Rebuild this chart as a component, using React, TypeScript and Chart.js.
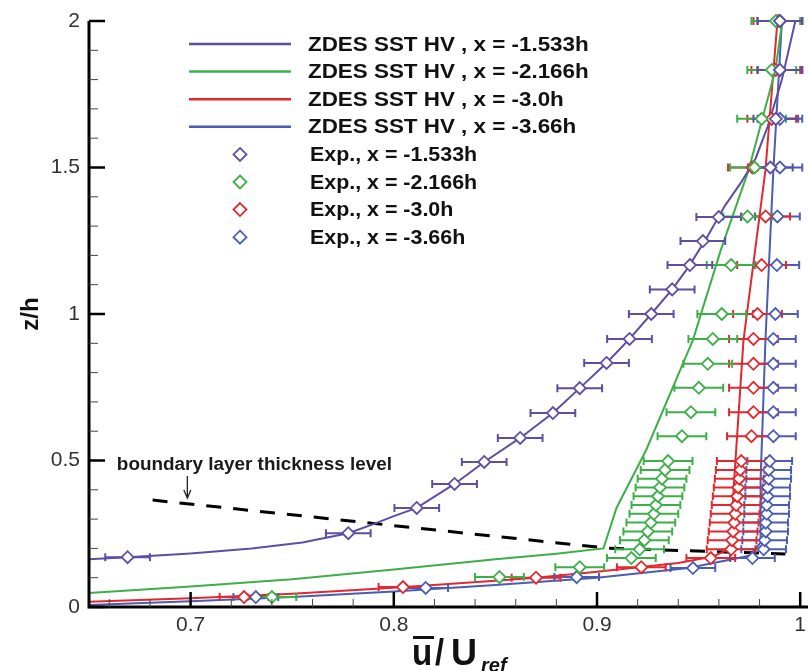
import React, { useEffect, useRef } from "react";
import { Chart, registerables } from "chart.js";
Chart.register(...registerables);

// ---------- axes ----------
const xRange = [0.65, 1.0];
const zRange = [0, 2];
const xTickValues = [0.7, 0.8, 0.9, 1.0];
const xTickLabels = ["0.7", "0.8", "0.9", "1"];
const zTickValues = [0, 0.5, 1, 1.5, 2];
const zTickLabels = ["0", "0.5", "1", "1.5", "2"];

// ---------- series names / colours ----------
const simNames = [
  "ZDES SST HV , x = -1.533h",
  "ZDES SST HV , x = -2.166h",
  "ZDES SST HV , x = -3.0h",
  "ZDES SST HV , x = -3.66h",
];
const expNames = [
  "Exp., x = -1.533h",
  "Exp., x = -2.166h",
  "Exp., x = -3.0h",
  "Exp., x = -3.66h",
];
const seriesColors = ["#5c4fa3", "#3daf48", "#e3282d", "#4a5db3"];

// ---------- simulation profiles (u/Uref, z/h) ----------
const sim1533U = [0.65, 0.669, 0.7, 0.73, 0.755, 0.7776, 0.79, 0.8, 0.8113, 0.8299, 0.8445, 0.8622, 0.8783, 0.8915, 0.9047, 0.916, 0.9267, 0.937, 0.945, 0.954, 0.963, 0.971, 0.978, 0.984, 0.991, 0.9976];
const sim1533Z = [0.163, 0.17, 0.183, 0.2, 0.22, 0.252, 0.283, 0.31, 0.338, 0.42, 0.495, 0.577, 0.662, 0.747, 0.833, 0.915, 1.0, 1.084, 1.16, 1.26, 1.37, 1.45, 1.53, 1.64, 1.8, 2.0];

const sim2166U = [0.65, 0.7, 0.75, 0.8, 0.85, 0.88, 0.9032, 0.9096, 0.9242, 0.9472, 0.9609, 0.9746, 0.9878, 0.9912];
const sim2166Z = [0.048, 0.07, 0.095, 0.128, 0.163, 0.182, 0.2, 0.338, 0.536, 0.911, 1.218, 1.491, 1.833, 2.0];

const sim30U = [0.65, 0.7, 0.75, 0.8, 0.85, 0.87, 0.9, 0.94, 0.957, 0.9658, 0.9665, 0.9675, 0.9721, 0.9829, 0.9888];
const sim30Z = [0.018, 0.03, 0.045, 0.066, 0.09, 0.1, 0.12, 0.15, 0.172, 0.2, 0.3, 0.433, 0.911, 1.491, 2.0];

const sim366U = [0.65, 0.7, 0.75, 0.8, 0.85, 0.9, 0.945, 0.975, 0.9805, 0.9805, 0.9829, 0.9868, 0.991];
const sim366Z = [0.007, 0.02, 0.034, 0.053, 0.075, 0.1, 0.133, 0.175, 0.22, 0.433, 0.911, 1.491, 2.0];

// ---------- experimental profiles (u/Uref, z/h, half error) ----------
const exp1533U = [0.669, 0.7776, 0.8113, 0.8299, 0.8445, 0.8622, 0.8783, 0.8915, 0.9047, 0.916, 0.9267, 0.937, 0.9457, 0.9521, 0.9599, 0.9853, 0.988, 0.99, 0.99];
const exp1533Z = [0.17, 0.252, 0.338, 0.42, 0.495, 0.577, 0.662, 0.747, 0.833, 0.915, 1.0, 1.084, 1.167, 1.249, 1.331, 1.5, 1.666, 1.833, 2.0];
const exp1533Err = 0.011;

const exp2166U = [0.74, 0.852, 0.8915, 0.9169, 0.921, 0.9233, 0.925, 0.9265, 0.928, 0.929, 0.93, 0.931, 0.932, 0.9335, 0.935, 0.9418, 0.9462, 0.9501, 0.9545, 0.957, 0.9614, 0.966, 0.9741, 0.9775, 0.981, 0.986, 0.988];
const exp2166Z = [0.034, 0.102, 0.136, 0.167, 0.197, 0.228, 0.258, 0.288, 0.318, 0.348, 0.378, 0.408, 0.438, 0.468, 0.498, 0.583, 0.665, 0.748, 0.83, 0.915, 1.0, 1.167, 1.333, 1.5, 1.666, 1.833, 2.0];
const exp2166Err = 0.012;

const exp30U = [0.7263, 0.8045, 0.87, 0.9218, 0.956, 0.966, 0.9665, 0.967, 0.9675, 0.968, 0.9685, 0.969, 0.9695, 0.97, 0.9705, 0.971, 0.976, 0.977, 0.977, 0.977, 0.977, 0.979, 0.981, 0.983, 0.9765, 0.986, 0.988, 0.989];
const exp30Z = [0.034, 0.068, 0.1, 0.136, 0.167, 0.197, 0.228, 0.258, 0.288, 0.318, 0.348, 0.378, 0.408, 0.438, 0.468, 0.498, 0.583, 0.665, 0.748, 0.83, 0.915, 1.0, 1.167, 1.333, 1.5, 1.666, 1.833, 2.0];
const exp30Err = 0.012;

const exp366U = [0.7321, 0.8157, 0.89, 0.9472, 0.9765, 0.982, 0.9825, 0.983, 0.983, 0.9835, 0.9835, 0.984, 0.984, 0.9845, 0.9845, 0.985, 0.9868, 0.9868, 0.9868, 0.9868, 0.9868, 0.9878, 0.9885, 0.9888, 0.99, 0.99, 0.99, 0.99];
const exp366Z = [0.034, 0.065, 0.102, 0.133, 0.167, 0.197, 0.228, 0.258, 0.288, 0.318, 0.348, 0.378, 0.408, 0.438, 0.468, 0.498, 0.583, 0.665, 0.748, 0.83, 0.915, 1.0, 1.167, 1.333, 1.5, 1.666, 1.833, 2.0];
const exp366Err = 0.011;

// ---------- boundary layer thickness level ----------
const bltU = [0.6813, 0.9047, 0.9927];
const bltZ = [0.365, 0.201, 0.181];
const bltLabel = "boundary layer thickness level";
const bltLabelAt = [0.6637, 0.4676];
const bltArrowU = 0.6984;
const bltArrowZ = [0.447, 0.372];

const FONT = '"Liberation Sans", Arial, Helvetica, sans-serif';

const pts = (u: number[], z: number[]) => u.map((v, i) => ({ x: v, y: z[i] }));

const simSets = [
  [sim1533U, sim1533Z],
  [sim2166U, sim2166Z],
  [sim30U, sim30Z],
  [sim366U, sim366Z],
];
const expSets: [number[], number[], number][] = [
  [exp1533U, exp1533Z, exp1533Err],
  [exp2166U, exp2166Z, exp2166Err],
  [exp30U, exp30Z, exp30Err],
  [exp366U, exp366Z, exp366Err],
];

function drawScaledText(ctx: CanvasRenderingContext2D, text: string, x: number, y: number, font: string, sx: number, align: CanvasTextAlign = "left") {
  ctx.save();
  ctx.font = font;
  ctx.textAlign = align;
  ctx.translate(x, y);
  ctx.scale(sx, 1);
  ctx.fillText(text, 0, 0);
  ctx.restore();
}

function diamond(ctx: CanvasRenderingContext2D, x: number, y: number, r: number, color: string) {
  ctx.beginPath();
  ctx.moveTo(x, y - r);
  ctx.lineTo(x + r, y);
  ctx.lineTo(x, y + r);
  ctx.lineTo(x - r, y);
  ctx.closePath();
  ctx.fillStyle = "#fff";
  ctx.fill();
  ctx.lineWidth = 1.8;
  ctx.strokeStyle = color;
  ctx.stroke();
}

const errorBarPlugin = {
  id: "errorBars",
  beforeDatasetDraw(chart: any, args: any) {
    if (args.index !== expSets.length - 1) return;
    const { ctx, scales } = chart;
    const xs = scales.x, ys = scales.y;
    ctx.save();
    for (let s = expSets.length - 1; s >= 0; s--) {
      const [u, z, err] = expSets[s];
      ctx.strokeStyle = seriesColors[s];
      ctx.lineWidth = 2;
      for (let i = 0; i < u.length; i++) {
        const py = ys.getPixelForValue(z[i]);
        const p0 = xs.getPixelForValue(u[i] - err);
        const p1 = xs.getPixelForValue(u[i] + err);
        ctx.beginPath();
        ctx.moveTo(p0, py);
        ctx.lineTo(p1, py);
        ctx.moveTo(p0, py - 4);
        ctx.lineTo(p0, py + 4);
        ctx.moveTo(p1, py - 4);
        ctx.lineTo(p1, py + 4);
        ctx.stroke();
      }
    }
    ctx.restore();
  },
};

const decorPlugin = {
  id: "decor",
  afterDraw(chart: any) {
    const { ctx, scales } = chart;
    const xs = scales.x, ys = scales.y;
    const ax = xs.getPixelForValue(xRange[0]);
    const ay = ys.getPixelForValue(zRange[0]);
    const top = ys.getPixelForValue(zRange[1]);
    ctx.save();
    ctx.strokeStyle = "#000";
    ctx.lineCap = "butt";
    // axis lines
    ctx.lineWidth = 3;
    ctx.beginPath();
    ctx.moveTo(ax, top);
    ctx.lineTo(ax, ay + 1.5);
    ctx.moveTo(ax - 1.5, ay);
    ctx.lineTo(chart.width, ay);
    ctx.stroke();
    // y ticks
    ctx.lineWidth = 2.5;
    zTickValues.forEach((v) => {
      const py = ys.getPixelForValue(v);
      ctx.beginPath();
      ctx.moveTo(ax, py);
      ctx.lineTo(ax + 16, py);
      ctx.stroke();
    });
    ctx.lineWidth = 1;
    ctx.strokeStyle = "#444";
    for (let k = 1; k < 20; k++) {
      if (k % 5 === 0) continue;
      const py = ys.getPixelForValue(k / 10);
      ctx.beginPath();
      ctx.moveTo(ax, py);
      ctx.lineTo(ax + 9, py);
      ctx.stroke();
    }
    // x ticks
    ctx.strokeStyle = "#000";
    ctx.lineWidth = 2.5;
    xTickValues.forEach((v) => {
      const px = xs.getPixelForValue(v);
      ctx.beginPath();
      ctx.moveTo(px, ay);
      ctx.lineTo(px, ay - 15);
      ctx.stroke();
    });
    ctx.lineWidth = 1;
    ctx.strokeStyle = "#444";
    for (let k = 33; k < 50; k++) {
      if (k % 5 === 0) continue;
      const px = xs.getPixelForValue(k / 50);
      ctx.beginPath();
      ctx.moveTo(px, ay);
      ctx.lineTo(px, ay - 8);
      ctx.stroke();
    }
    // tick labels
    ctx.fillStyle = "#333";
    ctx.font = `21px ${FONT}`;
    ctx.textBaseline = "middle";
    ctx.textAlign = "right";
    zTickValues.forEach((v, i) => ctx.fillText(zTickLabels[i], ax - 9, ys.getPixelForValue(v)));
    ctx.textAlign = "center";
    xTickValues.forEach((v, i) => ctx.fillText(xTickLabels[i], xs.getPixelForValue(v), ay + 18));

    // axis titles
    ctx.fillStyle = "#111";
    ctx.save();
    ctx.translate(31, (top + ay) / 2);
    ctx.rotate(-Math.PI / 2);
    ctx.font = `bold 24px ${FONT}`;
    ctx.textAlign = "center";
    ctx.textBaseline = "middle";
    ctx.fillText("z/h", 0, 0);
    ctx.restore();

    ctx.textBaseline = "alphabetic";
    drawScaledText(ctx, "u", 412, 665, `bold 36px ${FONT}`, 0.92);
    drawScaledText(ctx, "/", 435, 665, `bold 36px ${FONT}`, 0.9);
    drawScaledText(ctx, "U", 451, 665, `bold 36px ${FONT}`, 1.0);
    drawScaledText(ctx, "ref", 481, 672, `italic bold 20px ${FONT}`, 1.0);
    ctx.fillRect(413, 636, 21, 3);

    // boundary layer annotation
    ctx.fillStyle = "#1a1a1a";
    drawScaledText(ctx, bltLabel, xs.getPixelForValue(bltLabelAt[0]), ys.getPixelForValue(bltLabelAt[1]), `bold 18px ${FONT}`, 1.05);
    const arX = xs.getPixelForValue(bltArrowU);
    const arY0 = ys.getPixelForValue(bltArrowZ[0]);
    const arY1 = ys.getPixelForValue(bltArrowZ[1]);
    ctx.strokeStyle = "#222";
    ctx.lineWidth = 1.3;
    ctx.beginPath();
    ctx.moveTo(arX, arY0);
    ctx.lineTo(arX, arY1);
    ctx.moveTo(arX - 3.5, arY1 - 8);
    ctx.lineTo(arX, arY1);
    ctx.lineTo(arX + 3.5, arY1 - 8);
    ctx.stroke();

    // legend
    const lineX0 = 189, lineX1 = 291, textX = 308;
    const rowY0 = 44, rowDy = 27.6;
    ctx.textBaseline = "middle";
    for (let i = 0; i < 4; i++) {
      const yy = rowY0 + i * rowDy;
      ctx.strokeStyle = seriesColors[i];
      ctx.lineWidth = 2.5;
      ctx.beginPath();
      ctx.moveTo(lineX0, yy);
      ctx.lineTo(lineX1, yy);
      ctx.stroke();
      ctx.fillStyle = "#111";
      drawScaledText(ctx, simNames[i], textX, yy + 1, `bold 20px ${FONT}`, 1.12);
    }
    for (let i = 0; i < 4; i++) {
      const yy = rowY0 + (i + 4) * rowDy;
      diamond(ctx, 240, yy, 6.5, seriesColors[i]);
      ctx.fillStyle = "#111";
      drawScaledText(ctx, expNames[i], textX + 2, yy + 1, `bold 20px ${FONT}`, 1.07);
    }
    ctx.restore();
  },
};

export default function App() {
  const ref = useRef<HTMLCanvasElement | null>(null);
  useEffect(() => {
    if (!ref.current) return;
    const datasets: any[] = [];
    expSets.forEach(([u, z], i) => {
      datasets.push({
        label: expNames[i],
        data: pts(u, z),
        showLine: false,
        pointStyle: "rectRot",
        pointRadius: 6,
        pointBorderWidth: 1.8,
        pointBorderColor: seriesColors[i],
        pointBackgroundColor: "#fff",
        clip: false,
      });
    });
    simSets.forEach(([u, z], i) => {
      datasets.push({
        label: simNames[i],
        data: pts(u, z),
        showLine: true,
        borderColor: seriesColors[i],
        borderWidth: 2,
        pointRadius: 0,
        tension: 0,
        fill: false,
      });
    });
    datasets.push({
      label: bltLabel,
      data: pts(bltU, bltZ),
      showLine: true,
      borderColor: "#000",
      borderWidth: 3,
      borderDash: [15, 12],
      pointRadius: 0,
      fill: false,
    });
    const chart = new Chart(ref.current, {
      type: "scatter",
      data: { datasets },
      options: {
        animation: false,
        responsive: false,
        devicePixelRatio: 1,
        events: [],
        layout: { padding: { left: 89, right: 3, top: 21, bottom: 64 } },
        plugins: { legend: { display: false }, tooltip: { enabled: false } },
        scales: {
          x: { type: "linear", min: xRange[0], max: xRange[1], display: false },
          y: { type: "linear", min: zRange[0], max: zRange[1], display: false },
        },
      },
      plugins: [errorBarPlugin, decorPlugin],
    } as any);
    return () => chart.destroy();
  }, []);
  return (
    <div style={{ position: "fixed", left: 0, top: 0, width: 808, height: 671, background: "#fff" }}>
      <canvas ref={ref} width={808} height={671} style={{ display: "block", width: 808, height: 671 }} />
    </div>
  );
}
